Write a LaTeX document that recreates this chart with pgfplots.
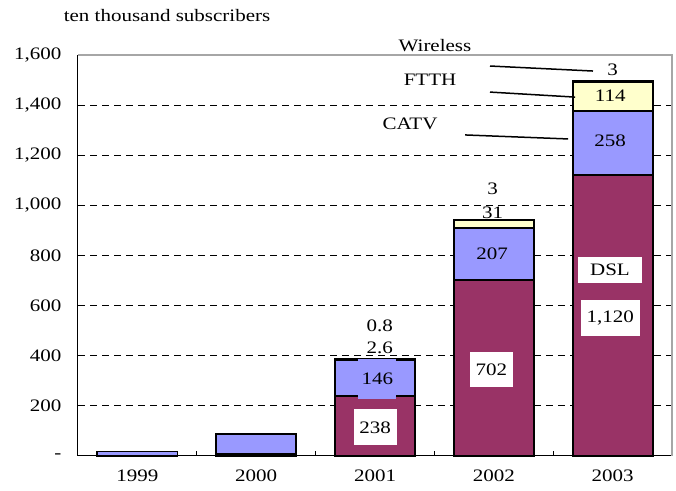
\documentclass[border=0pt]{standalone}
\usepackage{fontspec}
\setmainfont{Liberation Serif}[FakeStretch=1.2]
\usepackage{pgfplots}
\pgfplotsset{compat=1.18}
\definecolor{dsl}{HTML}{993366}
\definecolor{catv}{HTML}{9999FF}
\definecolor{ftth}{HTML}{FFFFCC}
\begin{document}
\begin{tikzpicture}[font=\fontsize{17.5}{20}\selectfont]
\begin{axis}[
  scale only axis, width=594pt, height=401pt,
  ybar stacked, bar width=80pt,
  xmin=-0.5, xmax=4.5, ymin=0, ymax=1600,
  clip=false,
  axis x line*=bottom, axis y line*=left,
  x axis line style={-, black, line width=1pt},
  y axis line style={-, black, line width=1pt},
  xtick={0,1,2,3,4}, xticklabels={1999,2000,2001,2002,2003},
  major tick length=0pt,
  xticklabel style={yshift=-10pt},
  extra x ticks={0.5,1.5,2.5,3.5}, extra x tick labels={},
  extra x tick style={major tick length=5pt, tick align=inside, tick style={black, line width=0.8pt}},
  ytick={0,200,...,1600},
  yticklabels={-,200,400,600,800,{1,000},{1,200},{1,400},{1,600}},
  yticklabel style={xshift=-13pt},
  extra y ticks={200,400,...,1400}, extra y tick labels={},
  extra y tick style={grid=major, major tick length=0pt},
  grid style={black, line width=0.8pt, dash pattern=on 7pt off 5pt},
  tick label style={font=\fontsize{17.5}{20}\selectfont},
  after end axis/.code={
    \draw[gray!70, line width=1.2pt] (rel axis cs:0,1) -- (rel axis cs:1,1) -- (rel axis cs:1,0);
    \node[fill=catv, minimum width=38pt, minimum height=40pt, inner sep=0pt] at (axis cs:2.02,307) {146};
    \node[fill=white, minimum width=43pt, minimum height=36pt, inner sep=0pt] at (axis cs:2.0,114) {238};
    \node at (axis cs:2.04,431) {2.6};
    \node at (axis cs:2.04,519) {0.8};
    \node[fill=white, minimum width=43pt, minimum height=35pt, inner sep=0pt] at (axis cs:2.98,345) {702};
    \node at (axis cs:2.985,806) {207};
    \node at (axis cs:2.99,970) {31};
    \node at (axis cs:2.99,1065) {3};
    \node[fill=white, minimum width=64pt, minimum height=26pt, inner sep=0pt] at (axis cs:3.978,742) {DSL};
    \node[fill=white, minimum width=59pt, minimum height=36pt, inner sep=0pt] at (axis cs:3.98,551) {1,120};
    \node at (axis cs:3.98,1257) {258};
    \node at (axis cs:3.98,1437) {114};
    \node at (axis cs:4.0,1540) {3};
    \node[fill=white, minimum width=106pt, inner sep=2pt] at (axis cs:2.505,1636) {Wireless};
    \node at (axis cs:2.463,1500) {FTTH};
    \node at (axis cs:2.295,1325) {CATV};
    \draw[black, line width=1.5pt] (axis cs:2.968,1556) -- (axis cs:3.835,1536);
    \draw[black, line width=1.5pt] (axis cs:2.968,1452) -- (axis cs:3.684,1432);
    \draw[black, line width=1.5pt] (axis cs:2.758,1281) -- (axis cs:3.625,1265);
    \node at ([shift={(89pt,39pt)}]rel axis cs:0,1) {ten thousand subscribers};
  },
]
\addplot[fill=dsl, draw=black, line width=1.8pt] coordinates {(0,0.2) (1,7) (2,238) (3,702) (4,1120)};
\addplot[fill=catv, draw=black, line width=1.8pt] coordinates {(0,18) (1,81) (2,146) (3,207) (4,258)};
\addplot[fill=ftth, draw=black, line width=1.8pt] coordinates {(0,0) (1,0) (2,2.6) (3,31) (4,114)};
\addplot[fill=white, draw=black, line width=1.8pt] coordinates {(0,0) (1,0) (2,0.8) (3,3) (4,3)};
\end{axis}
\path (current axis.south west) ++(-78pt,-35pt) rectangle ([shift={(4pt,55pt)}]current axis.north east);
\end{tikzpicture}
\end{document}
